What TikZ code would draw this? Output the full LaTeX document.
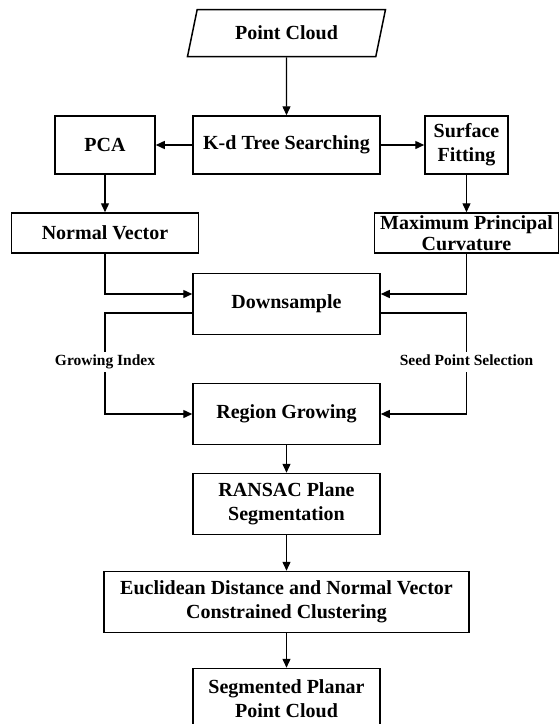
\documentclass[tikz,border=0pt]{standalone}
\usepackage{fontspec}
\setmainfont{Liberation Serif}
\usepackage{tikz}
\usetikzlibrary{shapes.geometric,arrows.meta}
\tikzstyle{squared} = [rectangle, minimum width=187pt, minimum height=61pt, text centered, align=center, draw=black, line width=1.5pt, font=\fontsize{20}{24}\selectfont\bfseries]
\tikzstyle{slanted} = [trapezium, trapezium left angle=65, trapezium right angle=115, trapezium stretches body, minimum width=198pt, minimum height=47pt, draw=black, line width=1.5pt, font=\fontsize{20}{24}\selectfont\bfseries]
\tikzstyle{tag} = [fill=white, inner sep=3pt, text height=11pt, text depth=3.5pt, font=\fontsize{15.5}{18}\selectfont\bfseries]
\tikzstyle{connect0} = [line width=1.4pt]
\tikzstyle{connect1} = [line width=1.4pt,-{Triangle[length=9pt,width=8pt]}]

\begin{document}
\begin{tikzpicture}[x=1pt, y=-1pt]
			\useasboundingbox (0,0) rectangle (560,724);
			% nodes
			\node (pc) [slanted] at (286.5,33) {Point Cloud};                                   % input
			\node (kd) [squared, minimum height=58pt, below of=pc, node distance=112pt] {K-d Tree Searching};
			\node (pca) [squared, minimum width=100pt, minimum height=58pt, left of=kd, node distance=181.5pt] {PCA};
			\node (sf) [squared, minimum width=83pt, minimum height=58pt, right of=kd, node distance=180pt] {Surface\\Fitting};
			\node (nv) [squared, minimum height=40pt, below of=pca, node distance=88pt] {Normal Vector};
			\node (mpc) [squared, minimum width=184pt, minimum height=40pt, inner ysep=0pt, font=\fontsize{20}{21}\selectfont\bfseries, below of=sf, node distance=88pt] {Maximum Principal\\Curvature};
			\node (ds) [squared, below of=kd, node distance=159pt] {Downsample};
			\node (gi) [tag, below of=nv, node distance=129pt] {Growing Index};               % label on left line
			\node (sps) [tag, below of=mpc, node distance=129pt] {Seed Point Selection};      % label on right line
			\node (rg) [squared, below of=ds, node distance=110pt] {Region Growing};
			\node (ransac) [squared, below of=rg, node distance=90pt] {RANSAC Plane\\Segmentation};
			\node (euclid) [squared, minimum width=365pt, below of=ransac, node distance=98pt] {Euclidean Distance and Normal Vector\\Constrained Clustering};
			\node (seg) [squared, below of=euclid, node distance=97pt] {Segmented Planar\\Point Cloud}; % output

			% connections
			\draw [connect1] (pc) -- (kd);
			\draw [connect1] (kd) -- (pca);
			\draw [connect1] (kd) -- (sf);
			\draw [connect1] (pca) -- (nv);
			\draw [connect1] (sf) -- (mpc);
			\draw [connect1] (nv) |- ([yshift=10pt]ds.west);
			\draw [connect1] (mpc) |- ([yshift=10pt]ds.east);
			\draw [connect0] ([yshift=-9pt]ds.west) -| (gi);
			\draw [connect1] (gi) |- (rg);
			\draw [connect0] ([yshift=-9pt]ds.east) -| (sps);
			\draw [connect1] (sps) |- (rg);
			\draw [connect1] (rg) -- (ransac);
			\draw [connect1] (ransac) -- (euclid);
			\draw [connect1] (euclid) -- (seg);
		\end{tikzpicture}
\end{document}
